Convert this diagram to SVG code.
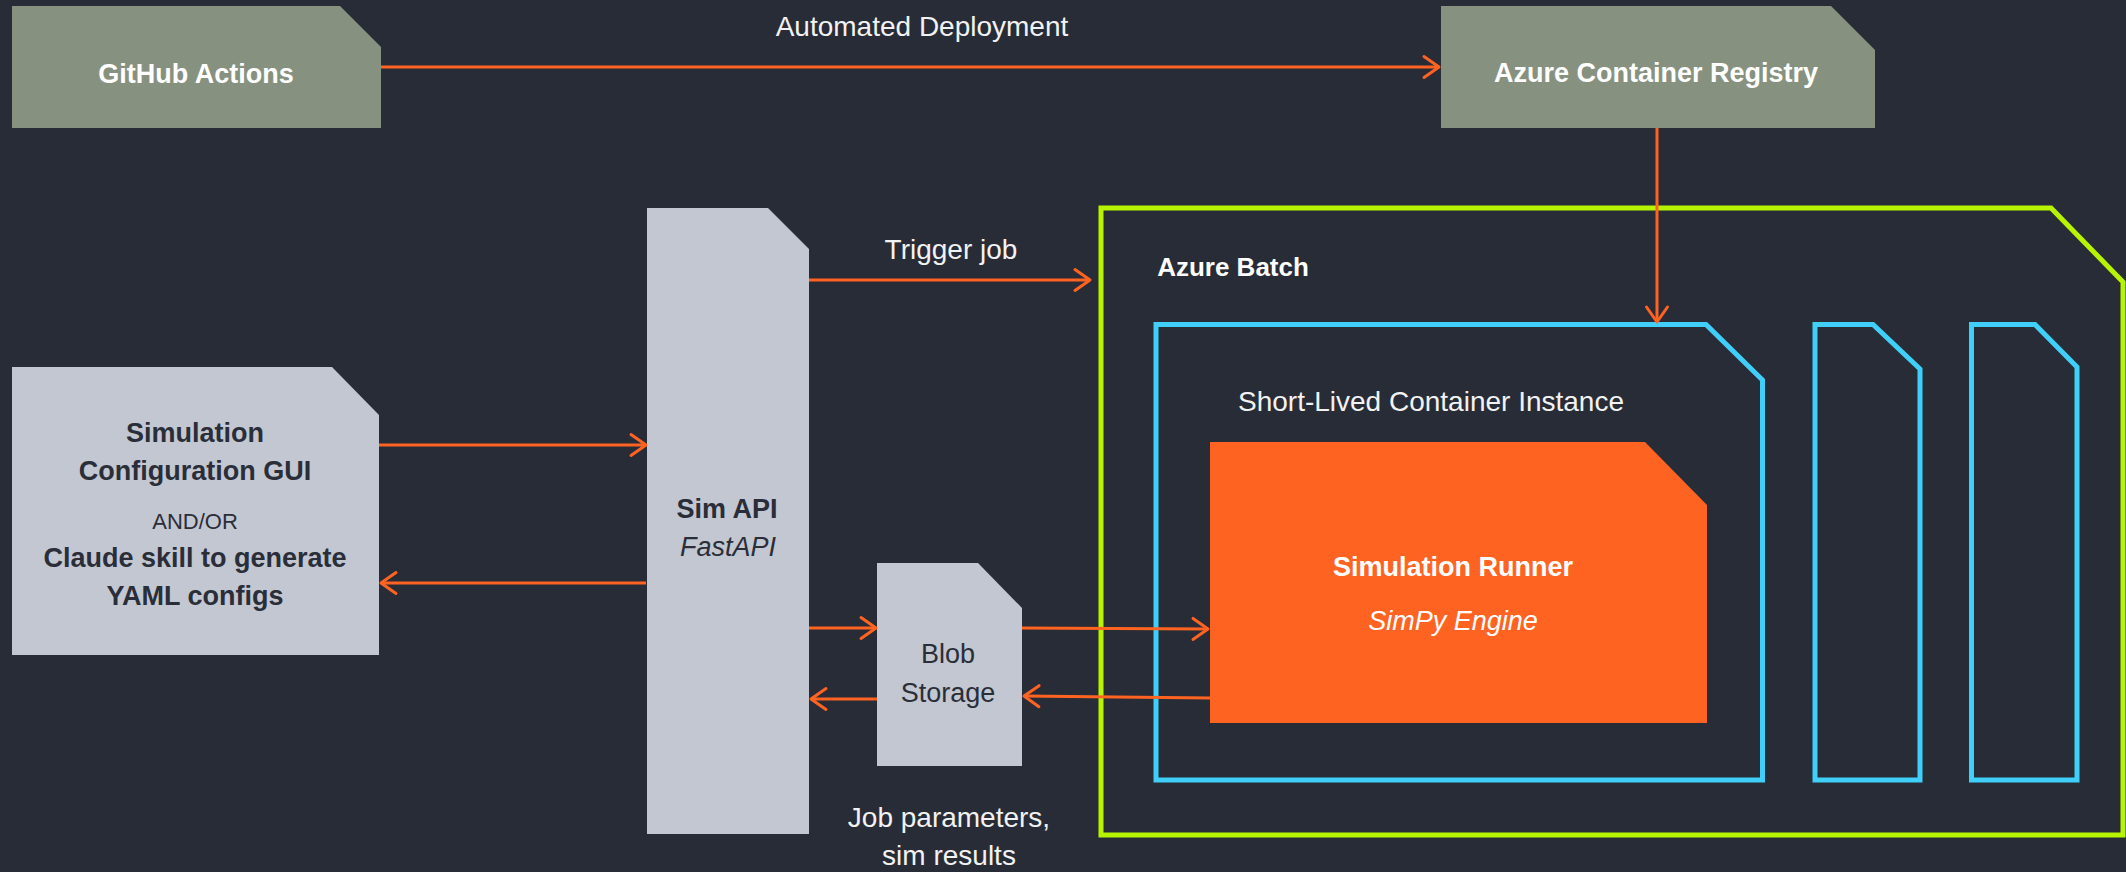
<svg xmlns="http://www.w3.org/2000/svg" width="2126" height="872" viewBox="0 0 2126 872">
<defs>
<style>
text{font-family:"Liberation Sans",Arial,sans-serif;text-anchor:middle}
.b{font-weight:bold}
.i{font-style:italic}
.w{fill:#ffffff}
.lbl{fill:#f2f2f2;font-size:28px}
.dk{fill:#2a2e39}
.green{fill:#879180}
.grey{fill:#c3c7d1}
.blue{fill:none;stroke:#3fcff8;stroke-width:5}
.lime{fill:none;stroke:#b6f400;stroke-width:5}
.con{fill:none;stroke:#ff6322;stroke-width:3;marker-end:url(#ah)}
</style>
<marker id="ah" markerUnits="userSpaceOnUse" viewBox="-18 -13 20 26" refX="0" refY="0" markerWidth="20" markerHeight="26" orient="auto" overflow="visible">
<path d="M-15,-10.5 L0,0 L-15,10.5" fill="none" stroke="#ff6322" stroke-width="3" stroke-linecap="round" stroke-linejoin="round"/>
</marker>
</defs>
<rect x="0" y="0" width="2126" height="872" fill="#282c37"/>

<g id="azure-batch">
<path class="lime" d="M1101,208 L2051,208 L2123,282 L2123,835 L1101,835 Z"/>
<text class="b w" x="1233" y="276" font-size="26">Azure Batch</text>
</g>

<g id="container-instance">
<path class="blue" d="M1156,324.5 L1706,324.5 L1762.5,380 L1762.5,780 L1156,780 Z"/>
<text class="lbl" x="1431" y="411">Short-Lived Container Instance</text>
</g>

<g id="container-2">
<path class="blue" d="M1815,324.5 L1873,324.5 L1920,369 L1920,780 L1815,780 Z"/>
</g>

<g id="container-3">
<path class="blue" d="M1971.5,324.5 L2035,324.5 L2077,367 L2077,780 L1971.5,780 Z"/>
</g>

<g id="simulation-runner">
<path fill="#ff6322" d="M1210,442 L1645,442 L1707,505 L1707,723 L1210,723 Z"/>
<text class="b w" x="1453" y="576" font-size="27">Simulation Runner</text>
<text class="i w" x="1453" y="630" font-size="27">SimPy Engine</text>
</g>

<g id="github-actions">
<path class="green" d="M12,6 L340,6 L381,47 L381,128 L12,128 Z"/>
<text class="b w" x="196" y="83" font-size="27">GitHub Actions</text>
</g>

<g id="azure-container-registry">
<path class="green" d="M1441,6 L1831,6 L1875,50 L1875,128 L1441,128 Z"/>
<text class="b w" x="1656" y="82" font-size="27">Azure Container Registry</text>
</g>

<g id="config-gui">
<path class="grey" d="M12,367 L332,367 L379,415 L379,655 L12,655 Z"/>
<text class="b dk" x="195" y="442" font-size="27">Simulation</text>
<text class="b dk" x="195" y="480" font-size="27">Configuration GUI</text>
<text class="dk" x="195" y="529" font-size="22">AND/OR</text>
<text class="b dk" x="195" y="567" font-size="27">Claude skill to generate</text>
<text class="b dk" x="195" y="605" font-size="27">YAML configs</text>
</g>

<g id="sim-api">
<path class="grey" d="M647,208 L768,208 L809,249 L809,834 L647,834 Z"/>
<text class="b dk" x="727" y="518" font-size="27">Sim API</text>
<text class="i dk" x="728" y="556" font-size="27">FastAPI</text>
</g>

<g id="blob-storage">
<path class="grey" d="M877,563 L978,563 L1022,608 L1022,766 L877,766 Z"/>
<text class="dk" x="948" y="663" font-size="27">Blob</text>
<text class="dk" x="948" y="702" font-size="27">Storage</text>
</g>

<g id="connectors">
<line class="con" x1="381" y1="67" x2="1439" y2="67"/>
<line class="con" x1="1657" y1="128" x2="1657" y2="322"/>
<line class="con" x1="809" y1="280" x2="1090" y2="280"/>
<line class="con" x1="379" y1="445" x2="646" y2="445"/>
<line class="con" x1="646" y1="583" x2="381" y2="583"/>
<line class="con" x1="809" y1="628" x2="876" y2="628"/>
<line class="con" x1="877" y1="699" x2="811" y2="699"/>
<line class="con" x1="1022" y1="628" x2="1208" y2="629"/>
<line class="con" x1="1210" y1="698" x2="1024" y2="696"/>
</g>

<g id="labels">
<text class="lbl" x="922" y="36">Automated Deployment</text>
<text class="lbl" x="951" y="259">Trigger job</text>
<text class="lbl" x="949" y="827">Job parameters,</text>
<text class="lbl" x="949" y="865">sim results</text>
</g>
</svg>
